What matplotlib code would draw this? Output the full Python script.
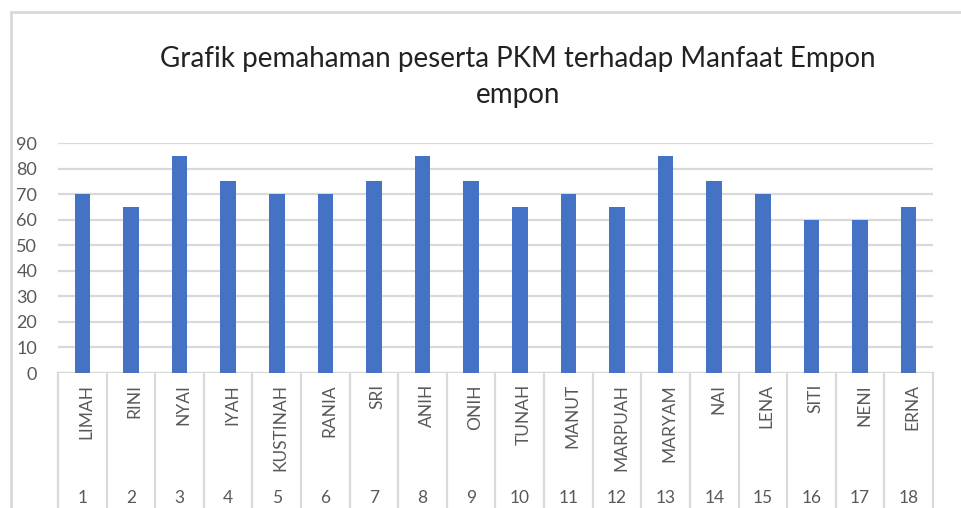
import matplotlib
matplotlib.use("Agg")
import matplotlib.pyplot as plt
from matplotlib.lines import Line2D
import matplotlib.transforms as mtransforms

names = ["LIMAH", "RINI", "NYAI", "IYAH", "KUSTINAH", "RANIA", "SRI", "ANIH", "ONIH",
         "TUNAH", "MANUT", "MARPUAH", "MARYAM", "NAI", "LENA", "SITI", "NENI", "ERNA"]
numbers = [str(i) for i in range(1, 19)]
values = [70, 65, 85, 75, 70, 70, 75, 85, 75, 65, 70, 65, 85, 75, 70, 60, 60, 65]
yticks = list(range(0, 91, 10))
title = "Grafik pemahaman peserta PKM terhadap Manfaat Empon\nempon"

plt.rcParams['font.family'] = ['Lato', 'DejaVu Sans']
W, H = 961, 508
fig = plt.figure(figsize=(W / 100, H / 100), dpi=100)
grid_c = "#d9d9d9"
txt_c = "#595959"

x0, x1 = 58, 933
y0, y1 = 373, 143
ax = fig.add_axes([x0 / W, (H - y0) / H, (x1 - x0) / W, (y0 - y1) / H])
xs = list(range(len(values)))
ax.bar(xs, values, width=0.32, color="#4472C4", zorder=3)
ax.set_xlim(-0.5, len(values) - 0.5)
ax.set_ylim(0, 90)
ax.set_yticks(yticks)
ax.set_yticklabels([str(t) for t in yticks], fontsize=13, color=txt_c)
ax.tick_params(axis='y', length=0, pad=15)
ax.set_xticks([])
ax.grid(axis='y', color=grid_c, lw=1.6, zorder=0)
for s in ax.spines.values():
    s.set_visible(False)
ax.axhline(0, color=grid_c, lw=1.6, zorder=2)

trans = mtransforms.blended_transform_factory(ax.transData, ax.transAxes)
for k in range(len(values) + 1):
    ax.add_line(Line2D([k - 0.5, k - 0.5], [0, -1.0], transform=trans,
                       color=grid_c, lw=1.6, clip_on=False))
for i, (n, num) in enumerate(zip(names, numbers)):
    ax.text(i + 0.08, -0.048, n, transform=trans, rotation=90, ha='center', va='top',
            fontsize=12.5, color=txt_c)
    ax.text(i, -0.577, num, transform=trans, ha='center', va='bottom',
            fontsize=12.5, color=txt_c)

fig.text(518 / W, 1 - 77 / H, title, ha='center', va='center', fontsize=20,
         color="#222222", linespacing=1.45)

fig.add_artist(Line2D([11 / W, 1], [1 - 12 / H, 1 - 12 / H], color=grid_c, lw=2))
fig.add_artist(Line2D([11 / W, 11 / W], [0, 1 - 12 / H], color=grid_c, lw=2))

fig.savefig("out.png", dpi=100)
